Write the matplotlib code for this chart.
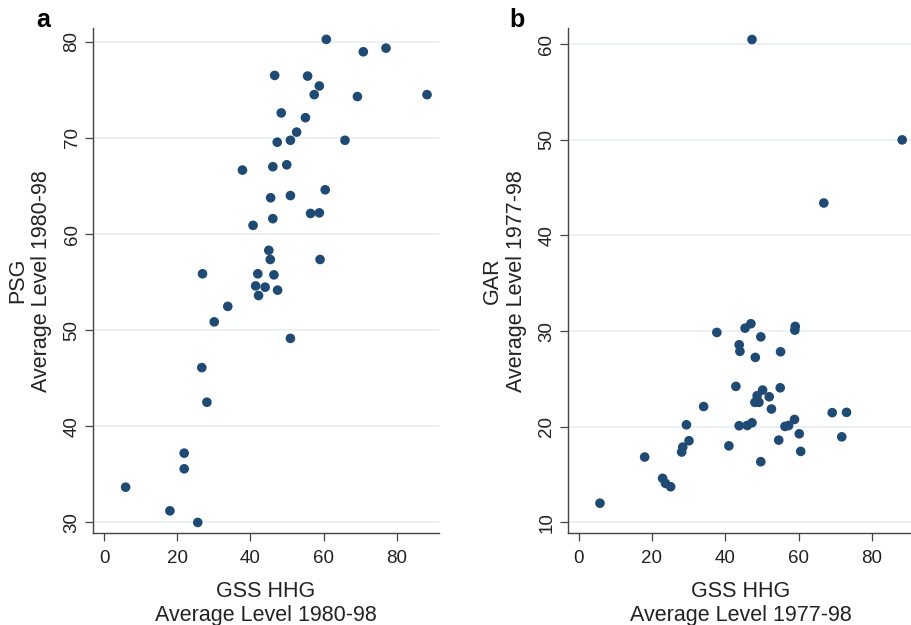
import matplotlib
matplotlib.use("Agg")
import matplotlib.pyplot as plt

plt.rcParams['font.family'] = ['Liberation Sans', 'DejaVu Sans']

# Panel a: GSS HHG vs PSG (1980-98)
a_x = [60.7, 70.8, 77.0, 46.6, 55.6, 58.8, 57.4, 69.2, 88.2, 48.4,
       55.0, 52.6, 47.3, 50.9, 65.8, 37.8, 46.1, 49.9, 60.4, 45.5,
       50.9, 56.4, 58.8, 46.1, 40.7, 45.0, 45.4, 59.0, 26.9, 42.0,
       46.4, 41.4, 44.0, 47.4, 42.2, 33.8, 30.1, 50.9, 26.7, 28.1,
       21.9, 21.9, 5.9, 18.0, 25.6]
a_y = [80.25, 78.96, 79.34, 76.5, 76.43, 75.4, 74.5, 74.3, 74.5, 72.6,
       72.1, 70.6, 69.55, 69.75, 69.75, 66.65, 67.0, 67.2, 64.6, 63.77,
       64.0, 62.14, 62.2, 61.6, 60.9, 58.3, 57.35, 57.35, 55.86, 55.86,
       55.75, 54.6, 54.47, 54.16, 53.6, 52.47, 50.86, 49.14, 46.1, 42.5,
       37.2, 35.57, 33.66, 31.2, 29.99]

# Panel b: GSS HHG vs GAR (1977-98)
b_x = [47.3, 88.3, 66.9, 37.7, 45.4, 47.0, 49.7, 59.1, 59.0, 43.8,
       44.0, 48.2, 55.1, 42.9, 50.2, 55.0, 48.7, 52.0, 48.1, 49.2,
       34.1, 52.6, 69.2, 73.1, 29.4, 43.8, 46.0, 47.3, 58.9, 56.3,
       57.3, 60.2, 71.8, 54.6, 30.1, 41.0, 28.4, 28.1, 60.6, 18.0,
       49.7, 22.9, 23.7, 25.1, 5.8]
b_y = [60.5, 50.0, 43.4, 29.86, 30.31, 30.77, 29.4, 30.49, 30.1, 28.57,
       27.88, 27.25, 27.84, 24.22, 23.83, 24.07, 23.24, 23.13, 22.55, 22.55,
       22.11, 21.85, 21.47, 21.5, 20.2, 20.1, 20.13, 20.41, 20.76, 20.03,
       20.13, 19.26, 18.94, 18.6, 18.53, 18.0, 17.87, 17.35, 17.42, 16.83,
       16.34, 14.6, 14.07, 13.72, 12.0]

x_ticks = [0, 20, 40, 60, 80]
a_yticks = [30, 40, 50, 60, 70, 80]
b_yticks = [10, 20, 30, 40, 50, 60]

color = '#1f4a73'
fig = plt.figure(figsize=(9.11, 6.25), dpi=100)

def style(ax, yticks, ylim, ylabel, xlabel):
    ax.set_xlim(-3.0, 91.4)
    ax.set_ylim(*ylim)
    ax.set_xticks(x_ticks)
    ax.set_yticks(yticks)
    for s in ['top', 'right']:
        ax.spines[s].set_visible(False)
    for s in ['left', 'bottom']:
        ax.spines[s].set_color('#444444')
        ax.spines[s].set_linewidth(1.0)
    ax.tick_params(axis='both', direction='out', length=6, width=0.9,
                   color='#444444', labelsize=13.5, labelcolor='#222222')
    ax.tick_params(axis='x', pad=6)
    ax.tick_params(axis='y', pad=3)
    for lab in ax.get_yticklabels():
        lab.set_rotation(90)
        lab.set_va('center')
    ax.yaxis.grid(True, color='#e6edf2', linewidth=1.2)
    ax.set_axisbelow(True)
    ax.set_ylabel(ylabel, fontsize=15.5, color='#222222', labelpad=8, linespacing=1.2)
    ax.set_xlabel(xlabel, fontsize=15.5, color='#222222', labelpad=10, linespacing=1.2)

ax1 = fig.add_axes([0.1021, 0.1467, 0.3795, 0.808])
ax1.scatter(a_x, a_y, s=48, color=color, edgecolors='none', zorder=3)
style(ax1, a_yticks, (28.86, 81.4), 'PSG\nAverage Level 1980-98',
      'GSS HHG\nAverage Level 1980-98')

ax2 = fig.add_axes([0.6232, 0.1467, 0.3796, 0.808])
ax2.scatter(b_x, b_y, s=48, color=color, edgecolors='none', zorder=3)
style(ax2, b_yticks, (8.85, 61.67), 'GAR\nAverage Level 1977-98',
      'GSS HHG\nAverage Level 1977-98')

fig.text(43 / 911, 1 - 20 / 625, 'a', fontsize=18, fontweight='bold', ha='center', va='center')
fig.text(517 / 911, 1 - 20 / 625, 'b', fontsize=18, fontweight='bold', ha='center', va='center')

fig.savefig('out.png', dpi=100)
